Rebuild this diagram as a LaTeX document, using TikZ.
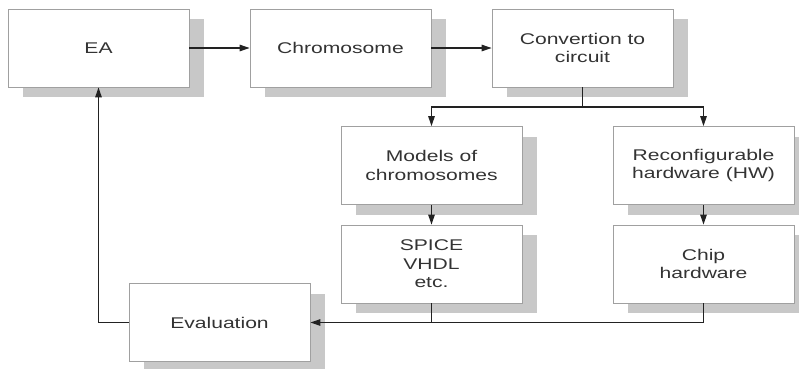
\documentclass[tikz,border=0pt]{standalone}
\usepackage{fontspec}
\setmainfont[FakeStretch=1.36]{Liberation Sans}
\usetikzlibrary{shadows,arrows.meta}
\definecolor{shadowgray}{HTML}{C8C8C8}
\definecolor{boxedge}{HTML}{A0A0A0}
\definecolor{txt}{HTML}{333333}
\definecolor{arrowc}{HTML}{222222}
\tikzset{
  box/.style={draw=boxedge, line width=0.8pt, fill=white, minimum width=181pt, minimum height=78pt,
    inner sep=0pt, align=center, text=txt, font=\fontsize{15.5}{18.5}\selectfont,
    drop shadow={shadow xshift=15pt, shadow yshift=-10pt, shadow scale=1, fill=shadowgray, opacity=1, draw=none}},
  arr/.style={draw=arrowc, line width=1.2pt, -{Triangle[length=10pt,width=6.5pt]}},
  ln/.style={draw=arrowc, line width=1.2pt}
}
\begin{document}
\begin{tikzpicture}[x=1pt,y=-1pt]
\useasboundingbox (0,0) rectangle (799,368);
\node[box] (ea) at (98.5,48) {EA};
\node[box] (chrom) at (340.5,48) {Chromosome};
\node[box] (conv) at (582.5,48) {Convertion to\\circuit};
\node[box] (models) at (431.5,165.5) {Models of\\chromosomes};
\node[box] (reconf) at (703.5,165.5) {Reconfigurable\\hardware (HW)};
\node[box] (spice) at (431.5,264) {SPICE\\VHDL\\etc.};
\node[box] (chip) at (703.5,264) {Chip\\hardware};
\node[box] (eval) at (219.5,322.5) {Evaluation};
\coordinate (split) at (582.5,107);
\draw[arr] (ea.east) -- (chrom.west);
\draw[arr] (chrom.east) -- (conv.west);
\draw[ln] (conv.south) -- (split);
\draw[arr] (split) -| (models.north);
\draw[arr] (split) -| (reconf.north);
\draw[arr] (models.south) -- (spice.north);
\draw[arr] (reconf.south) -- (chip.north);
\draw[ln] (spice.south) -- (spice.south |- eval.east);
\draw[arr] (chip.south) |- (eval.east);
\draw[arr] (eval.west) -| (ea.south);
\end{tikzpicture}
\end{document}
